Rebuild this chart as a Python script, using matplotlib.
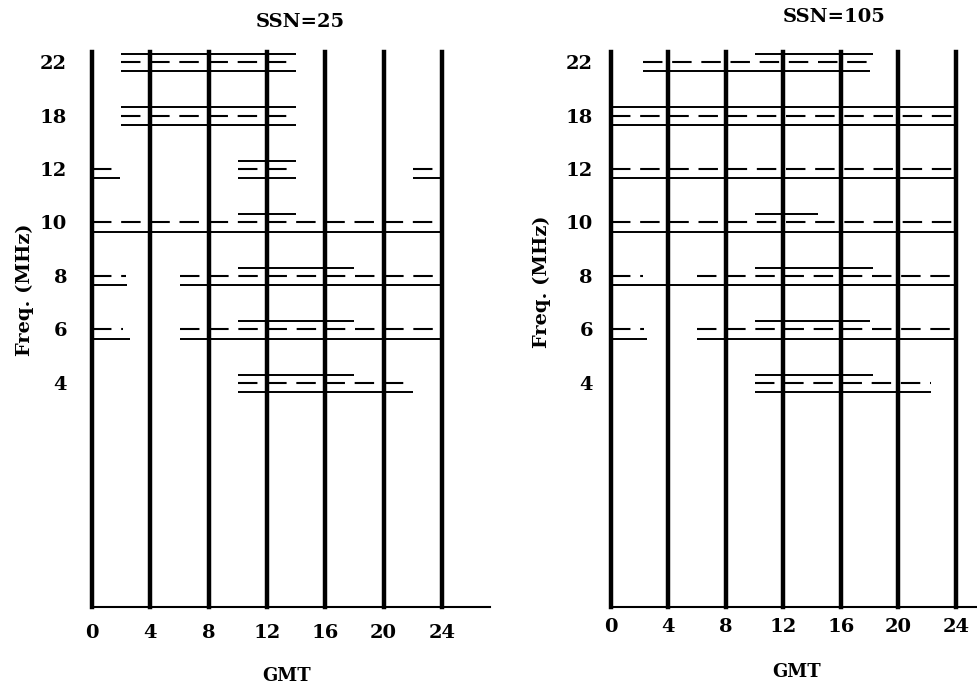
import matplotlib
matplotlib.use("Agg")
import matplotlib.pyplot as plt

# frequency rows (MHz), top to bottom
freqs = ["22", "18", "12", "10", "8", "6", "4"]
gmt_ticks = [0, 4, 8, 12, 16, 20, 24]

# open-circuit periods (GMT hours) for each frequency row
# upper = solid line above, median = dashed line, lower = solid line below
ssn25_upper = [[(2, 14)], [(2, 14)], [(10, 14)], [(10, 14)], [(10, 18)], [(10, 18)], [(10, 18)]]
ssn25_median = [[(2, 14)], [(2, 14)], [(0, 1.9), (10, 14), (22, 24)], [(0, 24)],
                [(0, 2.3), (6, 24)], [(0, 2.1), (6, 24)], [(10, 22)]]
ssn25_lower = [[(2, 14)], [(2, 14)], [(0, 1.9), (10, 14), (22, 24)], [(0, 24)],
               [(0, 2.4), (6, 24)], [(0, 2.6), (6, 24)], [(10, 22)]]

ssn105_upper = [[(10, 18.2)], [(0, 24)], [], [(10, 14.4)], [(10, 18.2)], [(10, 18)], [(10, 18.2)]]
ssn105_median = [[(2.2, 18)], [(0, 24)], [(0, 24)], [(0, 24)],
                 [(0, 2.2), (6, 24)], [(0, 2.3), (6, 24)], [(10, 22.3)]]
ssn105_lower = [[(2.2, 18)], [(0, 24)], [(0, 24)], [(0, 24)],
                [(0, 24)], [(0, 2.5), (6, 24)], [(10, 22.3)]]

plt.rcParams['lines.scale_dashes'] = False
FONT = dict(family="DejaVu Serif", weight="bold")

fig = plt.figure(figsize=(9.77, 6.89), dpi=100)
bottom, height = 0.119, 0.8055
ax1 = fig.add_axes([0.0942, bottom, 0.4074, height])
ax2 = fig.add_axes([0.6254, bottom, 0.3746, height])


def draw_panel(ax, upper, median, lower, xmax, xpad, ypad):
    for i in range(len(freqs)):
        for a, b in upper[i]:
            ax.hlines(i - 0.15, a, b, color="black", lw=1.4)
        for a, b in median[i]:
            ax.plot([a, b], [i, i], color="black", lw=1.5, dashes=(14, 7))
        for a, b in lower[i]:
            ax.hlines(i + 0.17, a, b, color="black", lw=1.4)
    for t in gmt_ticks:
        ax.axvline(t, color="black", lw=3.2, clip_on=False)
    ax.set_xlim(0, xmax)
    ax.set_ylim(10.19, -0.187)
    ax.set_xticks(gmt_ticks)
    ax.set_xticklabels([str(t) for t in gmt_ticks], fontsize=14, **FONT)
    ax.set_yticks(range(len(freqs)))
    ax.set_yticklabels(freqs, fontsize=14, **FONT)
    ax.tick_params(axis="x", length=0, pad=xpad)
    ax.tick_params(axis="y", length=0, pad=ypad)
    for s in ["top", "right", "left"]:
        ax.spines[s].set_visible(False)
    ax.spines["bottom"].set_linewidth(1.5)


draw_panel(ax1, ssn25_upper, ssn25_median, ssn25_lower, 27.3, 12, 18)
draw_panel(ax2, ssn105_upper, ssn105_median, ssn105_lower, 25.47, 8, 13)

fig.text(0.307, 0.968, "SSN=25", ha="center", va="center", fontsize=14, **FONT)
fig.text(0.8536, 0.975, "SSN=105", ha="center", va="center", fontsize=14, **FONT)
fig.text(0.2938, 0.019, "GMT", ha="center", va="center", fontsize=13, **FONT)
fig.text(0.8157, 0.025, "GMT", ha="center", va="center", fontsize=13, **FONT)
fig.text(0.0256, 0.579, "Freq. (MHz)", ha="center", va="center", rotation=90, fontsize=14, **FONT)
fig.text(0.5548, 0.591, "Freq. (MHz)", ha="center", va="center", rotation=90, fontsize=14, **FONT)

fig.savefig("out.png", dpi=100)
